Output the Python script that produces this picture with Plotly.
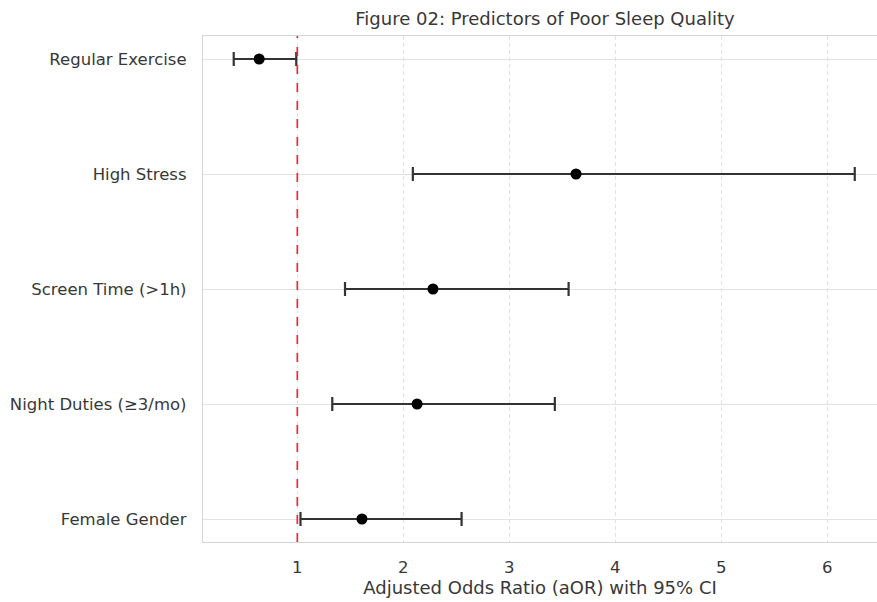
import plotly.graph_objects as go

# Data (top to bottom in the picture)
predictors = ["Regular Exercise", "High Stress", "Screen Time (>1h)",
              "Night Duties (≥3/mo)", "Female Gender"]
aor = [0.64, 3.63, 2.28, 2.13, 1.61]
ci_low = [0.40, 2.09, 1.45, 1.33, 1.03]
ci_high = [0.99, 6.26, 3.56, 3.43, 2.55]
x_ticks = [1, 2, 3, 4, 5, 6]

err_plus = [h - a for h, a in zip(ci_high, aor)]
err_minus = [a - l for a, l in zip(aor, ci_low)]

font_family = "DejaVu Sans, sans-serif"
text_color = "#383838"

fig = go.Figure()
fig.add_trace(go.Scatter(
    x=aor, y=predictors, mode="markers",
    marker=dict(color="black", size=11),
    error_x=dict(type="data", symmetric=False, array=err_plus,
                 arrayminus=err_minus, color="#333333", thickness=2.2, width=7),
    showlegend=False,
))

fig.add_vline(x=1, line=dict(color="#ee2a35", width=1.7, dash="dash"))

cat_order = list(reversed(predictors))

fig.update_layout(
    width=877, height=602,
    margin=dict(l=203, r=0, t=36, b=60),
    paper_bgcolor="white", plot_bgcolor="white",
    font=dict(family=font_family, size=16.5, color=text_color),
    title=dict(text="Figure 02: Predictors of Poor Sleep Quality",
               x=545 / 877, xanchor="center",
               y=1 - 19 / 602, yanchor="middle",
               font=dict(size=18, color=text_color)),
    xaxis=dict(
        range=[0.11, 6.47], tickvals=x_ticks, automargin=False,
        showgrid=True, gridcolor="#e2e2e2", griddash="4px,3px", gridwidth=1,
        showline=True, linecolor="#d6d6d6", linewidth=1.3, mirror=True,
        zeroline=False, ticks="", ticklabelstandoff=10,
        title=dict(text="Adjusted Odds Ratio (aOR) with 95% CI",
                   font=dict(size=18, color=text_color), standoff=4),
    ),
    yaxis=dict(
        type="category", categoryorder="array", categoryarray=cat_order,
        range=[-0.2, 4.2], automargin=False,
        showgrid=True, gridcolor="#e2e2e2", gridwidth=1.2,
        showline=True, linecolor="#d6d6d6", linewidth=1.3,
        zeroline=False, ticks="", ticklabelstandoff=12,
    ),
)

fig.write_html(
    "out.html",
    config={"displayModeBar": False},
    post_script="document.body.style.margin='0';document.body.style.overflow='hidden';",
)
